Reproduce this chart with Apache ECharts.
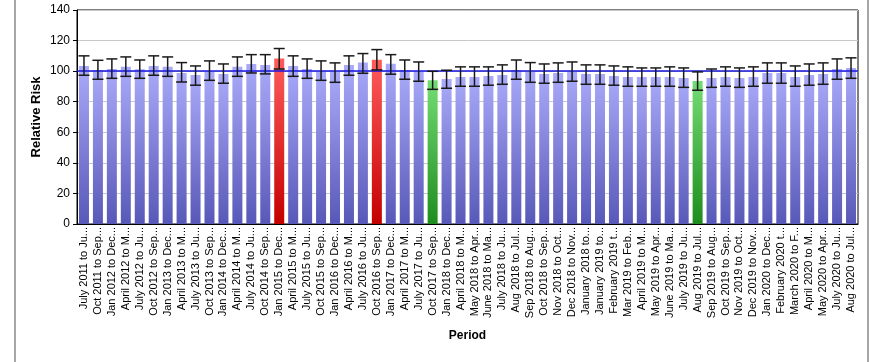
<!DOCTYPE html>
<html>
<head>
<meta charset="utf-8">
<script src="https://cdn.jsdelivr.net/npm/echarts@6/dist/echarts.min.js"></script>
<style>
  html, body { margin: 0; padding: 0; background: #fff; }
  #chart { width: 875px; height: 362px; }
</style>
</head>
<body>
<div id="chart"></div>
<script>
// periods (labels are truncated in the source report)
var periods = [
  "July 2011 to Ju...", "Oct 2011 to Sep...", "Jan 2012 to Dec...", "April 2012 to M...",
  "July 2012 to Ju...", "Oct 2012 to Sep...", "Jan 2013 to Dec...", "April 2013 to M...",
  "July 2013 to Ju...", "Oct 2013 to Sep...", "Jan 2014 to Dec...", "April 2014 to M...",
  "July 2014 to Ju...", "Oct 2014 to Sep...", "Jan 2015 to Dec...", "April 2015 to M...",
  "July 2015 to Ju...", "Oct 2015 to Sep...", "Jan 2016 to Dec...", "April 2016 to M...",
  "July 2016 to Ju...", "Oct 2016 to Sep...", "Jan 2017 to Dec...", "April 2017 to M...",
  "July 2017 to Ju...", "Oct 2017 to Sep...", "Jan 2018 to Dec...", "April 2018 to M...",
  "May 2018 to Apr...", "June 2018 to Ma...", "July 2018 to Ju...", "Aug 2018 to Jul...",
  "Sep 2018 to Aug...", "Oct 2018 to Sep...", "Nov 2018 to Oct...", "Dec 2018 to Nov...",
  "January 2018 to...", "January 2019 to...", "February 2019 t...", "Mar 2019 to Feb...",
  "April 2019 to M...", "May 2019 to Apr...", "June 2019 to Ma...", "July 2019 to Ju...",
  "Aug 2019 to Jul...", "Sep 2019 to Aug...", "Oct 2019 to Sep...", "Nov 2019 to Oct...",
  "Dec 2019 to Nov...", "Jan 2020 to Dec...", "February 2020 t...", "March 2020 to F...",
  "April 2020 to M...", "May 2020 to Apr...", "July 2020 to Ju...", "Aug 2020 to Jul..."
];

var risk = [
  103.4, 100.8, 101.4, 102.8, 101.2, 103.4, 102.8, 98.8, 97.5, 100.1, 98.2, 102.8, 104.7, 104.1,
  108.2, 103.4, 101.4, 100.1, 99.5, 104.1, 105.6, 107.5, 104.9, 100.8, 100.1, 94.0, 94.9, 96.2,
  96.2, 96.9, 97.5, 100.8, 99.5, 98.2, 98.8, 100.1, 98.2, 98.2, 96.9, 96.2, 96.2, 96.2,
  96.2, 95.5, 93.6, 95.5, 96.2, 95.5, 96.2, 98.8, 98.8, 96.2, 97.5, 98.2, 101.4, 102.1
];
var lower = [
  97.3, 94.7, 95.3, 96.6, 95.3, 97.3, 96.6, 92.9, 90.8, 94.0, 92.1, 96.6, 98.8, 98.2,
  101.4, 96.6, 95.3, 94.0, 92.7, 97.3, 98.6, 100.8, 98.0, 94.7, 93.4, 88.1, 88.8, 90.1,
  90.1, 90.8, 91.4, 94.7, 92.7, 92.1, 92.7, 93.4, 91.4, 91.4, 90.8, 90.1, 90.1, 90.1,
  90.1, 89.4, 87.5, 89.4, 90.1, 89.4, 90.1, 92.1, 92.1, 90.1, 90.8, 91.4, 94.7, 95.3
];
var upper = [
  110.0, 107.1, 108.0, 109.3, 107.3, 110.0, 109.3, 105.6, 103.4, 106.7, 104.7, 109.3, 110.8, 110.8,
  114.8, 110.0, 108.0, 106.7, 105.4, 110.0, 111.5, 114.1, 110.8, 107.3, 106.0, 99.9, 100.6, 102.8,
  102.8, 102.8, 104.1, 107.3, 105.6, 104.7, 105.4, 106.0, 104.1, 104.1, 103.4, 102.8, 102.1, 102.1,
  102.8, 102.1, 99.5, 101.4, 102.8, 102.1, 102.8, 105.4, 105.4, 103.4, 104.7, 105.4, 108.0, 108.7
];
// periods flagged significantly higher / lower than expected
var highIdx = [14, 21];
var lowIdx = [25, 44];
var baseline = 100;
var yTicks = [0, 20, 40, 60, 80, 100, 120, 140];

function grad(top, bottom) {
  return new echarts.graphic.LinearGradient(0, 0, 0, 1, [
    { offset: 0, color: top },
    { offset: 1, color: bottom }
  ]);
}
var blueFill = grad('#aaaafa', '#5858b8');
var redFill = grad('#ff5c5c', '#c40000');
var greenFill = grad('#74dc74', '#1e8c1e');

var barData = risk.map(function(v, i) {
  var fill = blueFill;
  if (highIdx.indexOf(i) >= 0) fill = redFill;
  if (lowIdx.indexOf(i) >= 0) fill = greenFill;
  return { value: v, itemStyle: { color: fill } };
});
var errData = risk.map(function(v, i) { return [i, lower[i], upper[i]]; });

var chart = echarts.init(document.getElementById('chart'), null, { renderer: 'canvas' });
var font = '"Liberation Sans", Arial, sans-serif';

chart.setOption({
  animation: false,
  backgroundColor: '#fff',
  textStyle: { fontFamily: font },
  graphic: [
    { type: 'line', shape: { x1: 15, y1: 0, x2: 15, y2: 362 }, style: { stroke: '#a6a6a6', lineWidth: 2 } },
    { type: 'line', shape: { x1: 868, y1: 0, x2: 868, y2: 362 }, style: { stroke: '#a6a6a6', lineWidth: 2 } }
  ],
  grid: {
    left: 77, right: 17, top: 10, bottom: 138,
    show: true, borderColor: '#000', borderWidth: 1
  },
  xAxis: {
    type: 'category',
    data: periods,
    name: 'Period',
    nameLocation: 'middle',
    nameGap: 106,
    nameMoveOverlap: false,
    nameTextStyle: { fontSize: 12, fontWeight: 'bold', color: '#000', fontFamily: font },
    axisLine: { lineStyle: { color: '#000', width: 1 } },
    axisTick: { show: false },
    axisLabel: {
      interval: 0, rotate: 90, fontSize: 11, color: '#000', margin: 3, fontFamily: font
    }
  },
  yAxis: {
    type: 'value',
    min: yTicks[0],
    max: yTicks[yTicks.length - 1],
    interval: 20,
    name: 'Relative Risk',
    nameLocation: 'middle',
    nameGap: 34,
    nameMoveOverlap: false,
    nameTextStyle: { fontSize: 13, fontWeight: 'bold', color: '#000', fontFamily: font },
    axisLine: { show: true, lineStyle: { color: '#000', width: 1 } },
    axisTick: { show: true, length: 4, lineStyle: { color: '#000' } },
    axisLabel: { fontSize: 12, color: '#000', margin: 7, fontFamily: font },
    splitLine: { show: true, lineStyle: { color: '#c8c8c8', width: 1 } }
  },
  series: [
    {
      type: 'bar',
      data: barData,
      barWidth: 10,
      markLine: {
        silent: true,
        symbol: ['none', 'none'],
        label: { show: false },
        lineStyle: { color: '#1414e0', width: 1.5, type: 'solid' },
        data: [{ yAxis: baseline }]
      }
    },
    {
      type: 'custom',
      data: errData,
      z: 5,
      renderItem: function(params, api) {
        var i = api.value(0);
        var lo = api.coord([i, api.value(1)]);
        var hi = api.coord([i, api.value(2)]);
        var half = 5.5;
        var st = { stroke: '#1a1a1a', lineWidth: 1.5 };
        return {
          type: 'group',
          children: [
            { type: 'line', shape: { x1: lo[0], y1: lo[1], x2: hi[0], y2: hi[1] }, style: st },
            { type: 'line', shape: { x1: hi[0] - half, y1: hi[1], x2: hi[0] + half, y2: hi[1] }, style: st },
            { type: 'line', shape: { x1: lo[0] - half, y1: lo[1], x2: lo[0] + half, y2: lo[1] }, style: st }
          ]
        };
      }
    }
  ]
});
</script>
</body>
</html>
